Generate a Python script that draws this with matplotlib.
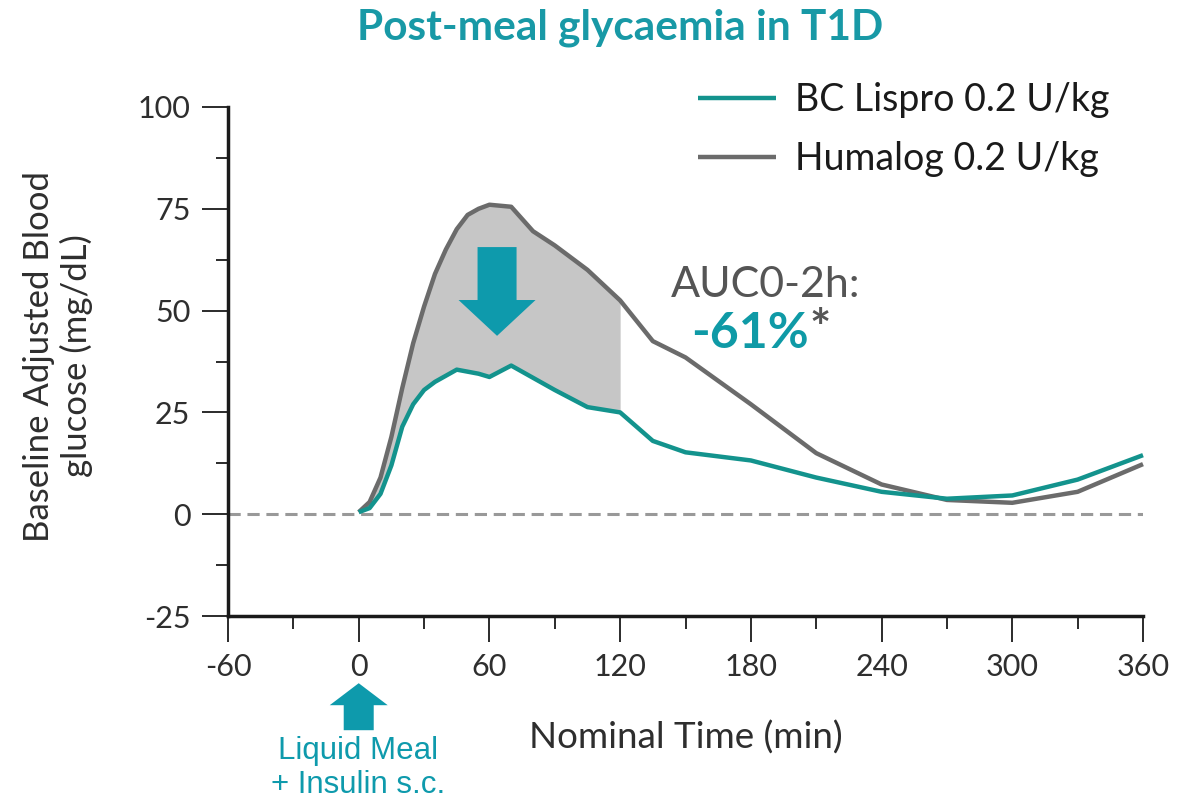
import matplotlib
matplotlib.use("Agg")
import matplotlib.pyplot as plt
from matplotlib.patches import Polygon
import numpy as np

plt.rcParams['font.family'] = ['Lato', 'DejaVu Sans']

time_min = [0, 5, 10, 15, 20, 25, 30, 35, 40, 45, 50, 55, 60, 70, 80, 90, 105, 120,
            135, 150, 180, 210, 240, 270, 300, 330, 360]
humalog = [0.5, 3, 9, 19, 31, 42, 51, 59, 65, 70, 73.5, 75, 76, 75.5, 69.5, 66, 60, 52.5,
           42.5, 38.5, 27, 15, 7.3, 3.5, 2.8, 5.5, 12.3]
bc_lispro = [0.5, 1.5, 5, 12, 21.5, 27, 30.5, 32.5, 34, 35.5, 35, 34.5, 33.7, 36.5, 33.5, 30.5, 26.3, 25,
             18, 15.2, 13.2, 9, 5.5, 3.8, 4.6, 8.5, 14.5]

x_ticks = [-60, 0, 60, 120, 180, 240, 300, 360]
y_ticks = [-25, 0, 25, 50, 75, 100]

TEAL = '#13938d'
ARROW = '#0e9aac'
GRAY = '#6b6b6b'
TXT = '#2e2e2e'

fig = plt.figure(figsize=(11.96, 8.02), dpi=100)
ax = fig.add_axes([228/1196, 1-616/802, 915/1196, 509/802])
ax.set_xlim(-60, 360)
ax.set_ylim(-25, 100)

t = np.array(time_min)
h = np.array(humalog)
b = np.array(bc_lispro)
mask = t <= 120
ax.fill_between(t[mask], b[mask], h[mask], color='#c6c6c6', lw=0, zorder=1)
ax.axhline(0, color='#999999', lw=2.2, ls=(0, (4, 2.2)), zorder=2)
l1, = ax.plot(t, b, color=TEAL, lw=3.2, zorder=4, clip_on=False, solid_capstyle='butt',
              label='BC Lispro 0.2 U/kg')
l2, = ax.plot(t, h, color=GRAY, lw=3.2, zorder=3, clip_on=False, solid_capstyle='butt',
              label='Humalog 0.2 U/kg')

for s in ['top', 'right']:
    ax.spines[s].set_visible(False)
for s in ['left', 'bottom']:
    ax.spines[s].set_linewidth(2.5)
    ax.spines[s].set_color('#1a1a1a')

ax.set_xticks(x_ticks)
ax.set_xticks([-30, 30, 90, 150, 210, 270, 330], minor=True)
ax.set_yticks(y_ticks)
ax.set_yticks([-12.5, 12.5, 37.5, 62.5, 87.5], minor=True)
ax.set_yticklabels([str(v) for v in y_ticks])
ax.set_xticklabels([str(v) for v in x_ticks])
ax.tick_params(axis='both', which='major', length=19, width=1.3, color='#1a1a1a',
               labelsize=22, labelcolor=TXT)
ax.tick_params(axis='both', which='minor', length=9, width=1.3, color='#1a1a1a')
ax.tick_params(axis='x', which='major', pad=8)
ax.tick_params(axis='y', which='major', pad=8)

ax.set_xlabel('Nominal Time (min)', fontsize=26.5, color=TXT)
ax.xaxis.set_label_coords((686-228)/915, (616-738)/509)
ax.xaxis.label.set_va('center')
ax.set_ylabel('Baseline Adjusted Blood\nglucose (mg/dL)', fontsize=25, color=TXT,
              linespacing=1.15)
ax.yaxis.set_label_coords((58-228)/915, (616-356)/509)
ax.yaxis.label.set_va('center')

leg = ax.legend(handles=[l1, l2], loc='upper left',
                bbox_to_anchor=((698-228)/915, (616-82)/509),
                frameon=False, fontsize=27, handlelength=2.08, handletextpad=0.5,
                borderaxespad=0, borderpad=0,
                labelspacing=0.62, labelcolor='#1a1a1a')

# Title
fig.text(620/1196, 1-28/802, 'Post-meal glycaemia in T1D', ha='center', va='center',
         fontsize=30.5, fontweight='bold', color='#1899a6')

# AUC annotation
ax.text(187, 56.2, 'AUC0-2h:', ha='center', va='center', fontsize=31, color='#555555')
ax.text(206.5, 44.4, '-61%', ha='right', va='center', fontsize=36, fontweight='bold', color='#0f9aa6')
ax.text(207, 45.2, '*', ha='left', va='center', fontsize=36, fontweight='bold', color='#555555')

# Down arrow inside the shaded area (data coords)
dx_per_px = 420/915
cx, top, tip = 63.5, 65.6, 43.8
shaft_w = 39*dx_per_px
head_w = 77*dx_per_px
head_top = 52.6
poly = [(cx-shaft_w/2, top), (cx+shaft_w/2, top), (cx+shaft_w/2, head_top),
        (cx+head_w/2, head_top), (cx, tip), (cx-head_w/2, head_top), (cx-shaft_w/2, head_top)]
ax.add_patch(Polygon(poly, closed=True, color=ARROW, lw=0, zorder=5))

# Up arrow below the axis (data coords, clip off)
cx2 = 0
y_tip = (514-683)/4.072
y_hb = (514-705)/4.072
y_bot = (514-730)/4.072
sw = 30*dx_per_px
hw = 58*dx_per_px
poly2 = [(cx2-sw/2, y_bot), (cx2+sw/2, y_bot), (cx2+sw/2, y_hb), (cx2+hw/2, y_hb),
         (cx2, y_tip), (cx2-hw/2, y_hb), (cx2-sw/2, y_hb)]
ax.add_patch(Polygon(poly2, closed=True, color=ARROW, lw=0, zorder=5, clip_on=False))

fig.text(358/1196, 1-768/802, 'Liquid Meal\n+ Insulin s.c.', ha='center', va='center',
         fontsize=22.5, color=ARROW, family=['Liberation Sans', 'DejaVu Sans'], linespacing=1.2)

fig.savefig('out.png', dpi=100)
